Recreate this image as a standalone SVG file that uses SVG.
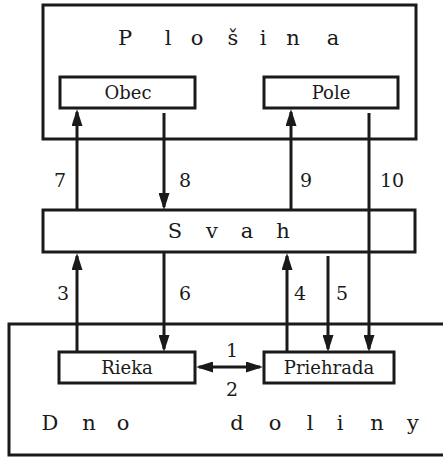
<svg xmlns="http://www.w3.org/2000/svg" width="443" height="457" viewBox="0 0 443 457">
<style>
.box{fill:none;stroke:#1a1a1a;stroke-width:3}
.ln{stroke:#1a1a1a;stroke-width:3;fill:none}
.t{font-family:'DejaVu Serif',serif;fill:#1a1a1a;text-anchor:middle}
.big{font-size:21px}
.lab{font-size:18px}
.num{font-size:19px}
</style>
<defs>
<marker id="ah" markerUnits="userSpaceOnUse" viewBox="0 0 17 11" markerWidth="17" markerHeight="11" refX="14" refY="5.5" orient="auto-start-reverse">
<path d="M0,0 L17,5.5 L0,11 z" fill="#1a1a1a"/>
</marker>
</defs>
<rect width="443" height="457" fill="#ffffff"/>
<g id="plosina">
<rect class="box" x="43" y="5" width="373" height="134"/>
<text class="t big" x="125 168 197 233 263 293 333" y="45">Plošina</text>
</g>
<g id="obec">
<rect class="box" x="60" y="77" width="135" height="31" fill="#fff"/>
<text class="t lab" x="128" y="99">Obec</text>
</g>
<g id="pole">
<rect class="box" x="264" y="77" width="134" height="31" fill="#fff"/>
<text class="t lab" x="331" y="99">Pole</text>
</g>
<g id="svah">
<rect class="box" x="43" y="210" width="372" height="42"/>
<text class="t big" x="175 212 247 283" y="238">Svah</text>
</g>
<g id="dno">
<rect class="box" x="9" y="324" width="450" height="131"/>
<text class="t big" x="50 89 123 180 237 275 310 340 377 413" y="430">Dno doliny</text>
</g>
<g id="rieka">
<rect class="box" x="59" y="352" width="136" height="31" fill="#fff"/>
<text class="t lab" x="127" y="374">Rieka</text>
</g>
<g id="priehrada">
<rect class="box" x="264" y="352" width="130" height="31" fill="#fff"/>
<text class="t lab" x="329" y="374">Priehrada</text>
</g>
<g id="connectors">
<line class="ln" x1="77" y1="210" x2="77" y2="112" marker-end="url(#ah)"/>
<line class="ln" x1="164" y1="113" x2="164" y2="207" marker-end="url(#ah)"/>
<line class="ln" x1="291" y1="210" x2="291" y2="112" marker-end="url(#ah)"/>
<line class="ln" x1="369" y1="113" x2="369" y2="349" marker-end="url(#ah)"/>
<line class="ln" x1="77" y1="352" x2="77" y2="256" marker-end="url(#ah)"/>
<line class="ln" x1="164" y1="252" x2="164" y2="349" marker-end="url(#ah)"/>
<line class="ln" x1="287" y1="352" x2="287" y2="256" marker-end="url(#ah)"/>
<line class="ln" x1="328" y1="256" x2="328" y2="349" marker-end="url(#ah)"/>
<line class="ln" x1="199" y1="367" x2="260" y2="367" marker-start="url(#ah)" marker-end="url(#ah)"/>
<text class="t num" x="60" y="187">7</text>
<text class="t num" x="185" y="187">8</text>
<text class="t num" x="306" y="187">9</text>
<text class="t num" x="392" y="187">10</text>
<text class="t num" x="63" y="300">3</text>
<text class="t num" x="185" y="300">6</text>
<text class="t num" x="300" y="300">4</text>
<text class="t num" x="342" y="300">5</text>
<text class="t num" x="232" y="357">1</text>
<text class="t num" x="232" y="396">2</text>
</g>
</svg>
